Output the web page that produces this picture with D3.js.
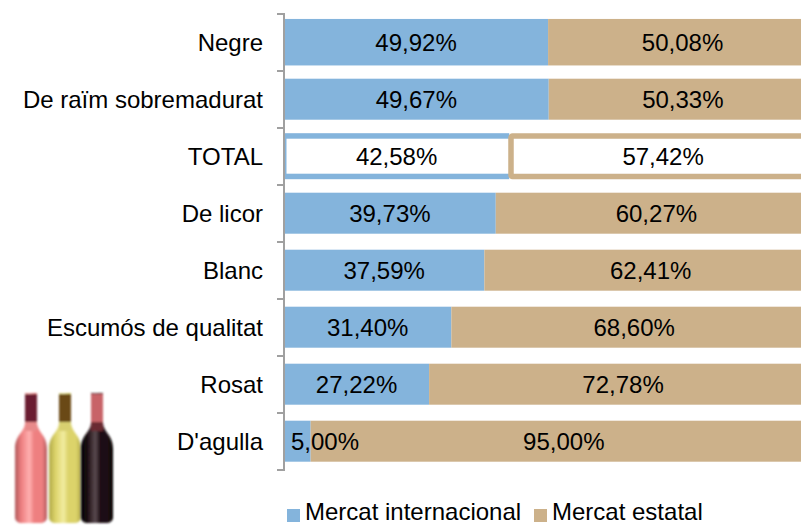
<!DOCTYPE html>
<html><head><meta charset="utf-8">
<script src="https://cdn.jsdelivr.net/npm/d3@7/dist/d3.min.js"></script>
<style>html,body{margin:0;padding:0;background:#fff;overflow:hidden}svg{display:block}text{font-family:"Liberation Sans",Arial,sans-serif;fill:#000}</style>
</head><body><svg id="c" width="801" height="525"></svg>
<script>
const categories = ["Negre","De raïm sobremadurat","TOTAL","De licor","Blanc","Escumós de qualitat","Rosat","D'agulla"];
const internacional = [49.92,49.67,42.58,39.73,37.59,31.40,27.22,5.00];
const estatal = [50.08,50.33,57.42,60.27,62.41,68.60,72.78,95.00];
const seriesNames = ["Mercat internacional","Mercat estatal"];
const seriesColors = ["#84b4dc","#ccb18a"];
const outlined = ["TOTAL"];
const tallRows = ["Negre","TOTAL"];
const bottles = [
  {body:"#ee7f80",dark:"#b05a5c",neck:"#6a1f30",shoulder:"#e88a8a",light:"#ffb0b0"},
  {body:"#dcd36a",dark:"#b0a848",neck:"#6a4a15",shoulder:"#d8d070",light:"#f2eca0"},
  {body:"#1c0d12",dark:"#000000",neck:"#c86468",shoulder:"#6a2a32",light:"#5a4a50"}
];

const svg = d3.select("#c");
const xThin = d3.scaleLinear().domain([0,100]).range([284,817]);
const xTall = d3.scaleLinear().domain([0,100]).range([284,813]);
const y = d3.scaleBand().domain(categories).range([14,470]);
const fs = 24;
const barH = 41;
const fmt = v=>v.toFixed(2).replace(".",",")+"%";

// bars
const g = svg.append("g");
categories.forEach((c,i)=>{
  const x = tallRows.includes(c)?xTall:xThin;
  const cy = y(c)+y.bandwidth()/2-0.3;
  const a = internacional[i], b = estatal[i];
  if(outlined.includes(c)){
    const t = cy-23, h = 46, sw = 5.5;
    g.append("rect").attr("x",x(0)).attr("y",t).attr("width",x(a)-x(0)).attr("height",h).attr("fill",seriesColors[0]);
    g.append("rect").attr("x",x(0)+2.5).attr("y",t+5.5).attr("width",x(a)-x(0)-2.5).attr("height",h-11).attr("fill","#fff");
    g.append("rect").attr("x",x(a)+sw/2-1).attr("y",t+sw/2).attr("width",xThin(100)-x(a)-sw).attr("height",h-sw).attr("rx",1.5).attr("fill","#fff").attr("stroke",seriesColors[1]).attr("stroke-width",sw);
  } else {
    const h = tallRows.includes(c)?46.5:barH;
    g.append("rect").attr("x",x(0)).attr("y",cy-h/2).attr("width",x(a)-x(0)).attr("height",h).attr("fill",seriesColors[0]);
    g.append("rect").attr("x",x(a)).attr("y",cy-h/2).attr("width",xThin(100)-x(a)).attr("height",h).attr("fill",seriesColors[1]);
  }
  // a label wider than its bar starts just inside the bar and runs over the next segment
  const narrow = x(a)-x(0) < 60;
  g.append("text").attr("x",narrow?x(0)+7:(x(0)+x(a))/2).attr("y",cy+8.5).attr("text-anchor",narrow?"start":"middle").attr("font-size",fs).text(fmt(a));
  g.append("text").attr("x",(x(a)+xThin(100))/2).attr("y",cy+8.5).attr("text-anchor","middle").attr("font-size",fs).text(fmt(b));
  g.append("text").attr("x",263).attr("y",cy+8.5).attr("text-anchor","end").attr("font-size",fs).text(c);
});

// axis
const ax = svg.append("g").attr("stroke","#a0a0a0").attr("stroke-width",2).attr("fill","none");
ax.append("line").attr("x1",284).attr("x2",284).attr("y1",13).attr("y2",471);
d3.range(categories.length+1).forEach(i=>{
  const ty = 14+i*y.step();
  ax.append("line").attr("x1",277).attr("x2",285).attr("y1",ty).attr("y2",ty);
});

// legend
const leg = svg.append("g");
[[287,305],[534,552]].forEach((p,i)=>{
  leg.append("rect").attr("x",p[0]).attr("y",509).attr("width",13).attr("height",13).attr("fill",seriesColors[i]);
  leg.append("text").attr("x",p[1]).attr("y",519.8).attr("font-size",fs).text(seriesNames[i]);
});

// bottles
const defs = svg.append("defs");
defs.append("filter").attr("id","blur").append("feGaussianBlur").attr("stdDeviation",1);
const bottlePath = "M-6,0 L6,0 L6,30 C7,40 16,42 16,56 L16,124 C16,128 13,130 9,130 L-9,130 C-13,130 -16,128 -16,124 L-16,56 C-16,42 -7,40 -6,30 Z";
bottles.forEach((b,i)=>{
  const id="bg"+i;
  const gr=defs.append("linearGradient").attr("id",id);
  gr.append("stop").attr("offset","0").attr("stop-color",b.dark);
  gr.append("stop").attr("offset","0.2").attr("stop-color",b.body);
  gr.append("stop").attr("offset","0.45").attr("stop-color",b.light);
  gr.append("stop").attr("offset","0.6").attr("stop-color",b.body);
  gr.append("stop").attr("offset","0.85").attr("stop-color",b.body);
  gr.append("stop").attr("offset","1").attr("stop-color",b.dark);
  const bx = [31,65,97][i];
  const t = svg.append("g").attr("transform",`translate(${bx},393)`).attr("filter","url(#blur)");
  t.append("path").attr("d",bottlePath).attr("fill",`url(#${id})`);
  t.append("rect").attr("x",-6).attr("y",1).attr("width",12).attr("height",28).attr("fill",b.neck);
  t.append("rect").attr("x",-6).attr("y",29).attr("width",12).attr("height",9).attr("fill",b.shoulder);
});
</script></body></html>
